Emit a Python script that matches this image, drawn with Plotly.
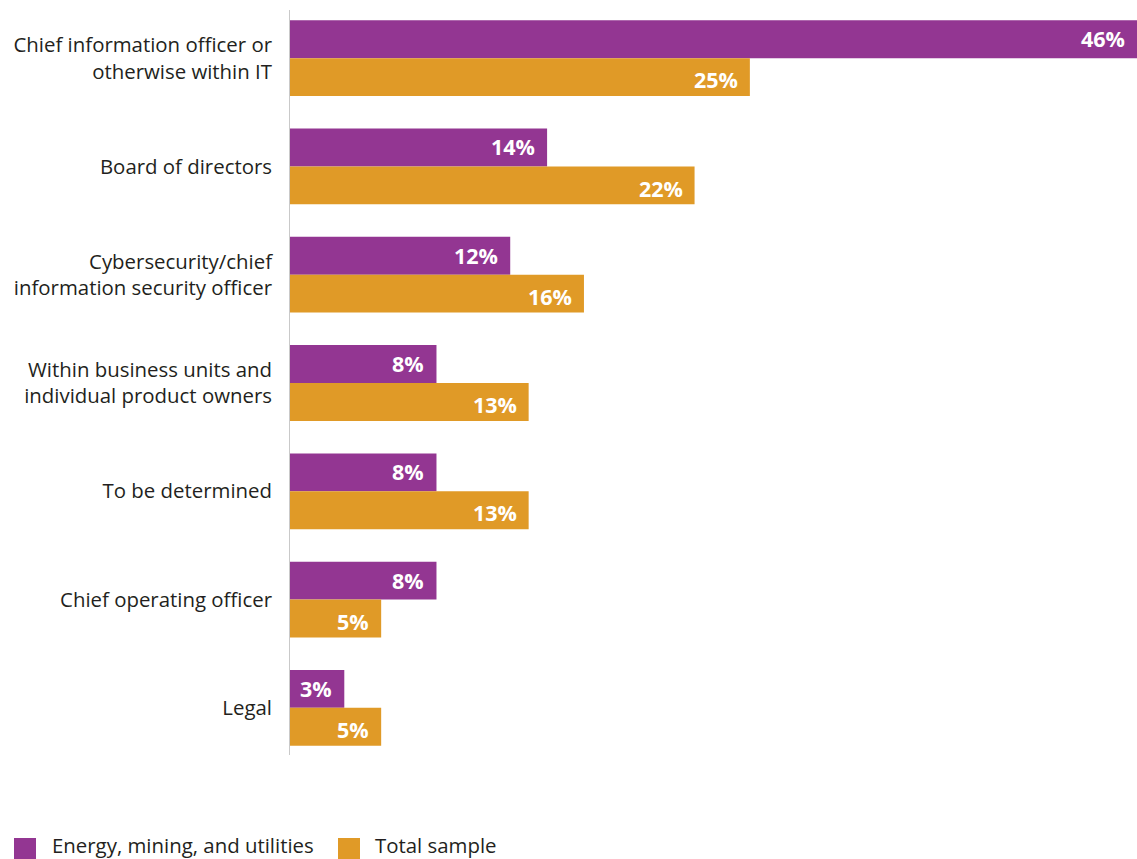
import plotly.graph_objects as go

categories = [
    "Chief information officer or<br>otherwise within IT",
    "Board of directors",
    "Cybersecurity/chief<br>information security officer",
    "Within business units and<br>individual product owners",
    "To be determined",
    "Chief operating officer",
    "Legal",
]
energy_mining_utilities = [46, 14, 12, 8, 8, 8, 3]
total_sample = [25, 22, 16, 13, 13, 5, 5]

series_names = ["Energy, mining, and utilities", "Total sample"]
PURPLE = "#933692"
ORANGE = "#E09A27"
FONT = "Open Sans"
TEXT = "#231f20"

W, H = 1137, 859
ML, MR, MT, MB = 289, 0, 4, 97
PW, PH = W - ML - MR, H - MT - MB


def px_x(px):
    return (px - ML) / PW


def px_y(py):
    return (H - MB - py) / PH


fig = go.Figure()
for name, vals, color in [
    (series_names[0], energy_mining_utilities, PURPLE),
    (series_names[1], total_sample, ORANGE),
]:
    fig.add_trace(go.Bar(
        y=categories, x=vals, orientation="h", name=name,
        marker=dict(color=color, line=dict(width=0)),
        showlegend=False, hoverinfo="skip",
    ))

# value labels at the inside end of each bar
annotations = []
for vals, offset in [(energy_mining_utilities, -0.19), (total_sample, 0.19)]:
    for i, v in enumerate(vals):
        annotations.append(dict(
            x=v, y=i + offset, xref="x", yref="y",
            text=f"<b>{v}%</b>", showarrow=False,
            xanchor="right", yanchor="middle", xshift=-10, yshift=-1,
            font=dict(family=FONT, size=21.5, color="white"),
        ))

# axis line along the left edge of the bars
shapes = [dict(
    type="line", xref="x", yref="paper", x0=0, x1=0,
    y0=px_y(755), y1=px_y(10),
    line=dict(color="#c9c9c9", width=2),
)]

# legend: swatches and labels along the bottom
for (sx, tx), name, color in zip([(14, 50), (338, 373)], series_names, [PURPLE, ORANGE]):
    shapes.append(dict(
        type="rect", xref="paper", yref="paper",
        x0=px_x(sx), x1=px_x(sx + 22), y0=px_y(859), y1=px_y(838),
        fillcolor=color, line=dict(width=0),
    ))
    annotations.append(dict(
        x=px_x(tx), y=px_y(845), xref="paper", yref="paper",
        text=name, showarrow=False, xanchor="left", yanchor="middle",
        font=dict(family=FONT, size=20.4, color=TEXT),
    ))

fig.update_layout(
    width=W, height=H,
    margin=dict(l=ML, r=MR, t=MT, b=MB, autoexpand=False),
    paper_bgcolor="white", plot_bgcolor="white",
    barmode="group", bargap=0.3, bargroupgap=0,
    font=dict(family=FONT, size=20, color=TEXT),
    showlegend=False,
    annotations=annotations,
    shapes=shapes,
    xaxis=dict(range=[0, 46], visible=False, fixedrange=True),
    yaxis=dict(
        autorange="reversed", showgrid=False, zeroline=False,
        showline=False, ticks="", ticklabelstandoff=16,
        tickfont=dict(family=FONT, size=20.4, color=TEXT),
    ),
)

fig.write_html("out.html")
